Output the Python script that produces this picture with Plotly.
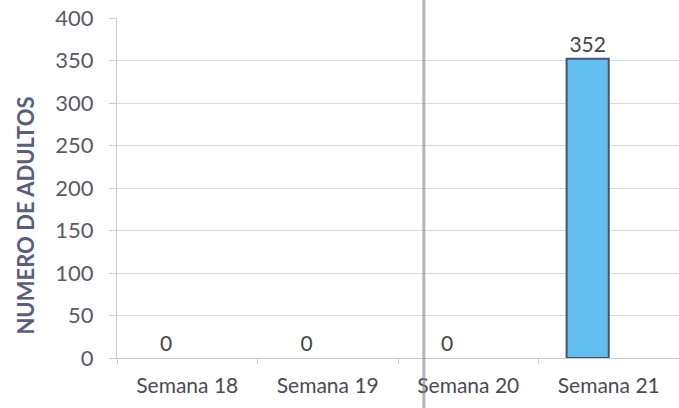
import plotly.graph_objects as go

categories = ["Semana 18", "Semana 19", "Semana 20", "Semana 21"]
adultos = [0, 0, 0, 352]
y_ticks = [0, 50, 100, 150, 200, 250, 300, 350, 400]

fig = go.Figure()
fig.add_trace(go.Bar(
    x=categories, y=adultos,
    width=0.3, offset=-0.3,
    marker=dict(color="#62bdf0",
                line=dict(color="#4b5263", width=[2 if v > 0 else 0 for v in adultos])),
    text=[str(v) for v in adultos], textposition="outside",
    textfont=dict(family="Lato, sans-serif", size=21, color="#454545"),
    cliponaxis=False,
))

fig.update_layout(
    width=679, height=408,
    margin=dict(l=117, r=0, t=18, b=50, autoexpand=False),
    paper_bgcolor="white", plot_bgcolor="white",
    showlegend=False,
    font=dict(family="Lato, sans-serif", color="#595959"),
    xaxis=dict(
        type="category", tickson="boundaries", ticks="outside", ticklen=5,
        tickcolor="#c8ccd2", showline=True, linecolor="#c8ccd2", linewidth=1,
        tickfont=dict(size=21, color="#4a4a55"), showgrid=False, automargin=False,
        ticklabelstandoff=9,
    ),
    yaxis=dict(
        range=[0, 400], tickvals=y_ticks, ticks="outside", ticklen=7,
        tickcolor="#c8ccd2", showline=True, linecolor="#c8ccd2", linewidth=1,
        gridcolor="#d5dae2", gridwidth=1, zeroline=False, automargin=False,
        tickfont=dict(size=22, color="#5a5a66"), ticklabelstandoff=11,
    ),
    annotations=[dict(text="<b>NUMERO DE ADULTOS</b>", xref="paper", yref="paper",
                      x=-0.163, y=0.42, textangle=-90, showarrow=False,
                      xanchor="center", yanchor="middle",
                      font=dict(size=22, color="#5b5e78"))],
    shapes=[dict(type="line", xref="paper", yref="paper", x0=0.546, x1=0.546,
                 y0=-0.15, y1=1.06, line=dict(color="rgba(130,130,140,0.6)", width=3),
                 layer="above")],
)

fig.write_html(
    "out.html",
    config={"displayModeBar": False},
    post_script="document.body.style.margin='0';document.body.style.overflow='hidden';",
)
